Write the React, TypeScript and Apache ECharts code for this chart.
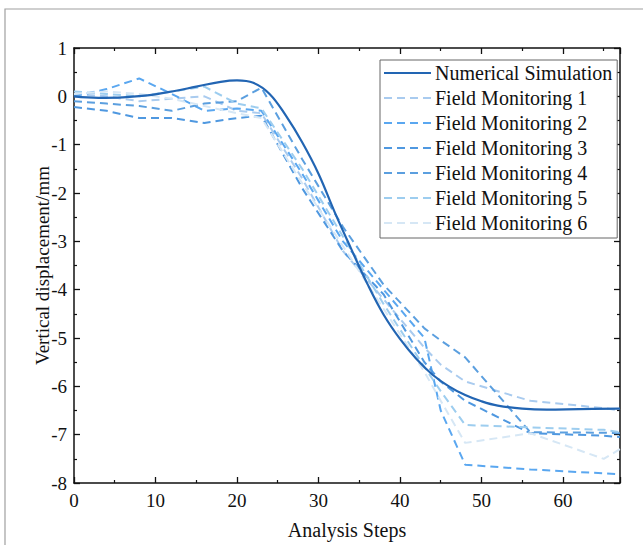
import React, { useEffect, useRef } from "react";
import * as echarts from "echarts";

const simSteps = [0, 3, 6, 9, 12, 15, 18, 20, 22, 24, 26, 28, 30, 32, 34, 36, 38, 40, 42, 44, 46, 48, 50, 52, 55, 58, 62, 67];
const simValues = [0, -0.03, -0.02, 0.02, 0.1, 0.2, 0.3, 0.33, 0.28, 0.05, -0.4, -0.95, -1.6, -2.4, -3.15, -3.88, -4.52, -5.02, -5.43, -5.76, -6.0, -6.18, -6.31, -6.4, -6.46, -6.48, -6.47, -6.46];

const fmSteps = [0, 4, 8, 12, 16, 20, 23, 28, 33, 38, 43, 45, 48, 56, 65, 67];
const fm1 = [0.05, 0.0, -0.1, -0.05, 0.0, -0.3, -0.35, -1.7, -3.2, -4.2, -5.2, -5.55, -5.9, -6.3, -6.45, -6.5];
const fm2 = [0.0, 0.15, 0.37, 0.05, -0.3, -0.25, -0.3, -1.6, -3.0, -4.0, -5.0, -6.5, -7.62, -7.72, -7.8, -7.82];
const fm3 = [-0.22, -0.3, -0.45, -0.45, -0.55, -0.45, -0.4, -1.9, -3.2, -4.1, -5.5, -5.9, -6.3, -6.97, -7.02, -7.05];
const fm4 = [-0.1, -0.15, -0.2, -0.3, -0.15, -0.1, 0.18, -1.3, -2.7, -3.9, -4.8, -5.05, -5.4, -6.95, -6.96, -6.97];
const fm5 = [0.1, 0.05, 0.0, 0.1, 0.2, -0.15, -0.25, -1.5, -2.9, -4.3, -5.6, -6.1, -6.8, -6.85, -6.9, -6.95];
const fm6 = [0.05, 0.1, 0.05, -0.05, -0.2, -0.35, -0.45, -1.8, -3.1, -4.4, -5.7, -6.3, -7.17, -6.97, -7.5, -7.3];

const xTicks = [0, 10, 20, 30, 40, 50, 60];
const yTicks = [1, 0, -1, -2, -3, -4, -5, -6, -7, -8];

const names = [
  "Numerical Simulation",
  "Field Monitoring 1",
  "Field Monitoring 2",
  "Field Monitoring 3",
  "Field Monitoring 4",
  "Field Monitoring 5",
  "Field Monitoring 6",
];
const colors = ["#2265b3", "#a9cbef", "#5aa7f0", "#4f98e0", "#5b9fdf", "#9dcdef", "#d6e7f5"];

const pair = (xs: number[], ys: number[]) => xs.map((x, i) => [x, ys[i]]);

export default function App() {
  const ref = useRef<HTMLDivElement>(null);
  useEffect(() => {
    if (!ref.current) return;
    const chart = echarts.init(ref.current, undefined, { renderer: "svg" });
    const font = "'Liberation Serif', 'Times New Roman', serif";
    const fmData = [fm1, fm2, fm3, fm4, fm5, fm6];
    const axisLine = { show: true, onZero: false, lineStyle: { color: "#111", width: 1.5 } };
    const tick = { show: true, inside: true, length: 6, lineStyle: { color: "#111", width: 1.3 } };
    const minor = { show: true, splitNumber: 2, length: 3, lineStyle: { color: "#111", width: 1.2 } };
    const series: any[] = [
      {
        name: names[0],
        type: "line",
        data: pair(simSteps, simValues),
        smooth: 0.4,
        symbol: "none",
        z: 10,
        lineStyle: { color: colors[0], width: 2.2, type: "solid" },
        itemStyle: { color: colors[0], opacity: 0 },
      },
      ...fmData.map((d, i) => ({
        name: names[i + 1],
        type: "line",
        data: pair(fmSteps, d),
        symbol: "none",
        z: 5,
        lineStyle: { color: colors[i + 1], width: 2, type: [8, 5] },
        itemStyle: { color: colors[i + 1], opacity: 0 },
      })),
    ];
    chart.setOption({
      animation: false,
      backgroundColor: "#ffffff",
      textStyle: { fontFamily: font },
      graphic: [
        {
          type: "rect",
          shape: { x: 5, y: 9, width: 700, height: 600 },
          style: { fill: "none", stroke: "#a0a0a0", lineWidth: 1.2 },
          silent: true,
        },
      ],
      grid: { left: 74, right: 23, top: 48, bottom: 53, containLabel: false },
      legend: {
        orient: "vertical",
        left: 380,
        top: 60,
        padding: [3, 5, 5, 3],
        backgroundColor: "#fff",
        borderColor: "#666",
        borderWidth: 1,
        borderRadius: 0,
        itemWidth: 47,
        itemHeight: 14,
        itemGap: 5,
        data: names,
        itemStyle: { opacity: 0 },
        textStyle: { fontFamily: font, fontSize: 20, color: "#111", lineHeight: 19.5, padding: [0, 0, 0, -1] },
      },
      xAxis: [
        {
          type: "value",
          min: 0,
          max: 67,
          interval: 10,
          position: "bottom",
          name: "Analysis Steps",
          nameLocation: "middle",
          nameGap: 37,
          nameMoveOverlap: false,
          nameTextStyle: { fontFamily: font, fontSize: 20, color: "#111" },
          axisLine,
          axisTick: tick,
          minorTick: minor,
          splitLine: { show: false },
          axisLabel: {
            fontFamily: font,
            fontSize: 19,
            color: "#111",
            margin: 8,
            showMaxLabel: false,
            formatter: (v: number) => (xTicks.includes(v) ? String(v) : ""),
          },
        },
        {
          type: "value",
          min: 0,
          max: 67,
          interval: 10,
          position: "top",
          axisLine,
          axisTick: tick,
          minorTick: minor,
          splitLine: { show: false },
          axisLabel: { show: false },
        },
      ],
      yAxis: [
        {
          type: "value",
          min: -8,
          max: 1,
          interval: 1,
          position: "left",
          name: "Vertical displacement/mm",
          nameLocation: "middle",
          nameGap: 22,
          nameMoveOverlap: false,
          nameTextStyle: { fontFamily: font, fontSize: 19, color: "#111" },
          axisLine,
          axisTick: tick,
          minorTick: minor,
          splitLine: { show: false },
          axisLabel: {
            fontFamily: font,
            fontSize: 19,
            color: "#111",
            margin: 7,
            formatter: (v: number) => (yTicks.includes(v) ? String(v) : ""),
          },
        },
        {
          type: "value",
          min: -8,
          max: 1,
          interval: 1,
          position: "right",
          axisLine,
          axisTick: tick,
          minorTick: minor,
          splitLine: { show: false },
          axisLabel: { show: false },
        },
      ],
      series,
    });
    return () => chart.dispose();
  }, []);
  return <div ref={ref} style={{ position: "absolute", left: 0, top: 0, width: 643, height: 545 }} />;
}
